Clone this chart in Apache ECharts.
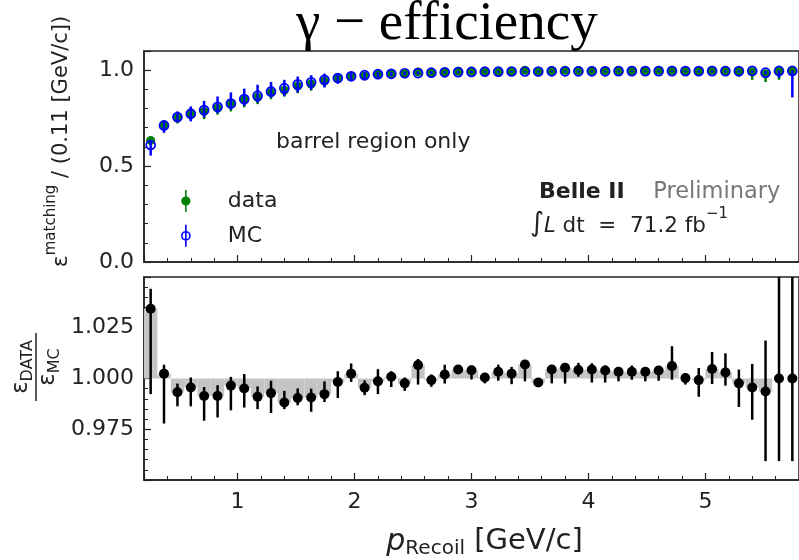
<!DOCTYPE html>
<html><head><meta charset="utf-8">
<script src="https://cdn.jsdelivr.net/npm/echarts@6/dist/echarts.min.js"></script>
<style>html,body{margin:0;padding:0;background:#fff}#c{width:799px;height:560px}</style>
</head><body><div id="c"></div>
<script>
// bin centres of p_Recoil [GeV/c]
var pRecoil = [0.257,0.371,0.486,0.600,0.714,0.829,0.943,1.057,1.171,1.286,1.400,1.514,1.629,1.743,1.857,1.971,2.086,2.200,2.314,2.429,2.543,2.657,2.771,2.886,3.000,3.114,3.229,3.343,3.457,3.571,3.686,3.800,3.914,4.029,4.143,4.257,4.371,4.486,4.600,4.714,4.829,4.943,5.057,5.171,5.286,5.400,5.514,5.629,5.743];
var binHalfWidth = 0.0571;
// efficiency: data
var dataEff = [0.634,0.714,0.751,0.770,0.785,0.802,0.823,0.845,0.859,0.883,0.895,0.917,0.928,0.943,0.957,0.970,0.970,0.978,0.982,0.982,0.991,0.986,0.991,0.994,0.995,0.993,0.995,0.995,0.999,0.991,0.998,0.999,0.998,0.998,0.998,0.998,0.998,0.998,0.999,0.999,0.995,0.994,0.999,0.998,0.993,0.992,0.981,0.996,0.996];
var dataLo  = [0.612,0.690,0.722,0.740,0.745,0.768,0.785,0.806,0.823,0.849,0.862,0.880,0.893,0.912,0.936,0.955,0.955,0.966,0.970,0.970,0.983,0.978,0.983,0.986,0.987,0.985,0.987,0.987,0.991,0.983,0.990,0.991,0.990,0.990,0.990,0.990,0.990,0.990,0.991,0.992,0.985,0.984,0.990,0.988,0.965,0.950,0.938,0.950,0.985];
var dataHi  = [0.655,0.735,0.775,0.793,0.808,0.826,0.845,0.866,0.880,0.902,0.913,0.934,0.943,0.956,0.968,0.979,0.979,0.986,0.989,0.989,0.996,0.992,0.996,0.998,0.998,0.997,0.998,0.998,1.000,0.996,1.000,1.000,1.000,1.000,1.000,1.000,1.000,1.000,1.000,1.000,0.999,0.998,1.000,1.000,0.998,0.998,0.992,1.000,1.000];
// efficiency: MC
var mcEff = [0.610,0.712,0.756,0.773,0.792,0.809,0.826,0.849,0.867,0.889,0.906,0.926,0.937,0.950,0.959,0.968,0.974,0.979,0.981,0.984,0.985,0.987,0.989,0.990,0.991,0.992,0.992,0.993,0.993,0.993,0.994,0.994,0.994,0.994,0.994,0.995,0.995,0.995,0.995,0.995,0.995,0.995,0.995,0.995,0.995,0.996,0.987,0.996,0.996];
var mcLo  = [0.555,0.673,0.728,0.733,0.754,0.776,0.794,0.814,0.832,0.858,0.866,0.884,0.898,0.910,0.930,0.944,0.948,0.962,0.968,0.974,0.977,0.980,0.983,0.984,0.986,0.987,0.987,0.988,0.988,0.988,0.989,0.989,0.989,0.989,0.989,0.990,0.990,0.990,0.990,0.990,0.989,0.988,0.988,0.988,0.987,0.986,0.978,0.960,0.858];
var mcHi  = [0.635,0.740,0.785,0.811,0.840,0.863,0.884,0.904,0.924,0.939,0.950,0.967,0.974,0.982,0.984,0.988,0.990,0.991,0.992,0.993,0.994,0.995,0.996,0.996,0.997,0.997,0.997,0.997,0.997,0.997,0.998,0.998,0.998,0.998,0.998,0.998,0.998,0.998,0.998,0.998,0.998,0.999,0.999,0.999,0.999,0.999,0.997,1.000,1.000];
// ratio data / MC
var ratio   = [1.0344,1.0024,0.9932,0.9956,0.9914,0.9914,0.9965,0.9951,0.9910,0.9928,0.9882,0.9904,0.9906,0.9923,0.9983,1.0024,0.9954,0.9986,1.0009,0.9976,1.0066,0.9992,1.0020,1.0044,1.0041,1.0005,1.0033,1.0024,1.0069,0.9980,1.0044,1.0053,1.0042,1.0044,1.0039,1.0033,1.0033,1.0033,1.0039,1.0061,1.0002,0.9992,1.0047,1.0030,0.9976,0.9956,0.9936,1.0000,1.0000];
var ratioLo = [0.9923,0.9778,0.9863,0.9863,0.9792,0.9808,0.9843,0.9857,0.9849,0.9830,0.9849,0.9868,0.9836,0.9884,0.9904,0.9983,0.9918,0.9923,0.9958,0.9939,0.9970,0.9959,0.9975,1.0030,0.9995,0.9976,0.9989,0.9972,0.9986,0.9958,0.9976,0.9975,1.0009,0.9980,0.9980,0.9986,0.9994,0.9986,0.9989,0.9994,0.9970,0.9910,0.9973,0.9965,0.9860,0.9797,0.9593,0.9593,0.9593];
var ratioHi = [1.0442,1.0068,0.9975,1.0005,0.9958,0.9967,1.0008,1.0022,0.9961,0.9989,0.9939,0.9951,0.9950,0.9986,1.0036,1.0074,0.9991,1.0046,1.0036,1.0005,1.0096,1.0020,1.0068,1.0057,1.0064,1.0020,1.0068,1.0057,1.0080,0.9994,1.0060,1.0072,1.0077,1.0075,1.0064,1.0049,1.0064,1.0053,1.0061,1.0159,1.0025,1.0052,1.0131,1.0124,1.0044,1.0072,1.0187,1.0500,1.0500];

var FONT = 'DejaVu Sans';
function pts(y){ return pRecoil.map(function(x,i){ return [x, y[i]]; }); }
function bars(lo,hi){ return pRecoil.map(function(x,i){ return [x, lo[i], hi[i]]; }); }
function errRender(color, w){
  return function(params, api){
    var a = api.coord([api.value(0), api.value(1)]);
    var b = api.coord([api.value(0), api.value(2)]);
    return {type:'line', shape:{x1:a[0],y1:a[1],x2:b[0],y2:b[1]}, style:{stroke:color, lineWidth:w}};
  };
}
function grayRender(params, api){
  var x = api.value(0), r = api.value(1);
  var a = api.coord([x - binHalfWidth, 1]);
  var b = api.coord([x + binHalfWidth, r]);
  return {type:'rect', shape:{x:a[0], y:Math.min(a[1],b[1]), width:b[0]-a[0], height:Math.abs(b[1]-a[1])}, style:{fill:'#c4c4c4'}};
}
var axisCommon = {
  axisLine:{show:true, lineStyle:{color:'#222', width:1.5}},
  axisTick:{show:true, inside:true, length:7, lineStyle:{color:'#222', width:1.2}},
  minorTick:{show:true, splitNumber:5, length:4, lineStyle:{color:'#222', width:1}},
  splitLine:{show:false}
};
var chart = echarts.init(document.getElementById('c'), null, {renderer:'canvas'});
chart.setOption({
  animation:false,
  backgroundColor:'#fff',
  title:{text:'γ − efficiency', left:291, top:-8, textStyle:{fontFamily:'Liberation Serif', fontSize:55, fontWeight:'normal', color:'#000'}},
  legend:{left:176, top:185, orient:'vertical', itemWidth:74, itemHeight:22, itemGap:12, selectedMode:false,
    textStyle:{fontFamily:FONT, fontSize:22, color:'#222'},
    data:[
      {name:'data', icon:'path://M4.3,0H5.7V20H4.3Z M9.2,10A4.2,4.2,0,1,1,0.8,10A4.2,4.2,0,1,1,9.2,10Z', itemStyle:{color:'green', borderWidth:0, opacity:1}},
      {name:'MC', icon:'path://M5,0L5,20M8.7,10A3.7,3.7,0,1,1,1.3,10A3.7,3.7,0,1,1,8.7,10Z', itemStyle:{color:'rgba(0,0,0,0)', borderColor:'blue', borderWidth:1.6, opacity:1}}
    ]},
  grid:[
    {left:144, top:51, width:655, height:211, show:true, borderColor:'#222', borderWidth:1.5, backgroundColor:'transparent'},
    {left:144, top:277, width:655, height:213, show:true, borderColor:'#222', borderWidth:1.5, backgroundColor:'transparent'}
  ],
  xAxis:[
    Object.assign({type:'value', gridIndex:0, min:0.2, max:5.8, splitNumber:5, axisLabel:{show:false}}, axisCommon),
    Object.assign({type:'value', gridIndex:1, min:0.2, max:5.8, splitNumber:5,
      axisLabel:{show:true, showMinLabel:false, showMaxLabel:false, fontFamily:FONT, fontSize:22, color:'#222', margin:11,
        formatter:function(v){ return Math.abs(v-Math.round(v))<1e-6 ? String(Math.round(v)) : ''; }},
      name:'{p|p}{s|Recoil}{n| [GeV/c]}', nameLocation:'middle', nameGap:47,
      nameTextStyle:{fontFamily:FONT, fontSize:29, color:'#222', padding:[0,0,0,26], rich:{
        p:{fontFamily:FONT, fontSize:30, fontStyle:'italic', color:'#222', lineHeight:32, verticalAlign:'top'},
        s:{fontFamily:FONT, fontSize:20, color:'#222', lineHeight:32, verticalAlign:'bottom'},
        n:{fontFamily:FONT, fontSize:29, color:'#222', lineHeight:32, verticalAlign:'top'}}}}, axisCommon)
  ],
  yAxis:[
    Object.assign({type:'value', gridIndex:0, min:0, max:1.1, interval:0.5,
      axisLabel:{showMaxLabel:false, fontFamily:FONT, fontSize:22, color:'#222', margin:10, formatter:function(v){return v.toFixed(1);}},
      name:'{e|ε}{sup|matching}{n| / (0.11 [GeV/c])}', nameLocation:'middle', nameRotate:90, nameGap:72,
      nameTextStyle:{fontFamily:FONT, fontSize:20, color:'#222', padding:[0,0,0,30], rich:{
        e:{fontFamily:FONT, fontSize:22, color:'#222', lineHeight:28, verticalAlign:'bottom'},
        sup:{fontFamily:FONT, fontSize:15, color:'#222', lineHeight:28, verticalAlign:'top'},
        n:{fontFamily:FONT, fontSize:21, color:'#222', lineHeight:28, verticalAlign:'bottom'}}}}, axisCommon),
    Object.assign({type:'value', gridIndex:1, min:0.95, max:1.05, interval:0.025,
      axisLabel:{showMinLabel:false, showMaxLabel:false, fontFamily:FONT, fontSize:22, color:'#222', margin:10, formatter:function(v){return v.toFixed(3);}}}, axisCommon)
  ],
  graphic:[
    {type:'text', left:276, top:131, style:{text:'barrel region only', font:'22px "DejaVu Sans"', fill:'#222'}},
    {type:'text', left:539, top:181, style:{text:'{b|Belle II}{g|    Preliminary}', font:'22px "DejaVu Sans"',
      rich:{b:{fontFamily:FONT, fontSize:22, fontWeight:'bold', fill:'#222'}, g:{fontFamily:FONT, fontSize:22.5, fill:'#777'}}}},
    {type:'text', left:530, top:207, style:{text:'{i|∫}{l|L}{n| dt  =  71.2 fb}{s|−1}', font:'21px "DejaVu Sans"',
      rich:{i:{fontFamily:FONT, fontSize:27, fill:'#222', lineHeight:30, verticalAlign:'bottom'},
            l:{fontFamily:FONT, fontSize:21, fontStyle:'italic', fill:'#222', lineHeight:30, verticalAlign:'bottom'},
            n:{fontFamily:FONT, fontSize:21.5, fill:'#222', lineHeight:30, verticalAlign:'bottom'},
            s:{fontFamily:FONT, fontSize:15, fill:'#222', lineHeight:30, verticalAlign:'top'}}}},
    {type:'group', x:36, y:367, rotation:Math.PI/2, children:[
      {type:'text', x:0, y:-13, style:{text:'{e|ε}{s|DATA}', align:'center', verticalAlign:'middle', font:'23px "DejaVu Sans"',
        rich:{e:{fontFamily:FONT, fontSize:23, fill:'#222', lineHeight:26, verticalAlign:'top'}, s:{fontFamily:FONT, fontSize:16, fill:'#222', lineHeight:26, verticalAlign:'bottom'}}}},
      {type:'line', shape:{x1:-34, y1:0, x2:34, y2:0}, style:{stroke:'#222', lineWidth:1.5}},
      {type:'text', x:0, y:14, style:{text:'{e|ε}{s|MC}', align:'center', verticalAlign:'middle', font:'23px "DejaVu Sans"',
        rich:{e:{fontFamily:FONT, fontSize:23, fill:'#222', lineHeight:26, verticalAlign:'top'}, s:{fontFamily:FONT, fontSize:16, fill:'#222', lineHeight:26, verticalAlign:'bottom'}}}}
    ]}
  ],
  series:[
    {type:'custom', name:'data err', xAxisIndex:0, yAxisIndex:0, renderItem:errRender('green',2.5), data:bars(dataLo,dataHi), encode:{x:0,y:[1,2]}, silent:true, z:2},
    {type:'scatter', name:'data', xAxisIndex:0, yAxisIndex:0, data:pts(dataEff), symbol:'circle', symbolSize:9, itemStyle:{color:'green', opacity:1}, z:3},
    {type:'custom', name:'MC err', xAxisIndex:0, yAxisIndex:0, renderItem:errRender('blue',2.5), data:bars(mcLo,mcHi), encode:{x:0,y:[1,2]}, silent:true, z:4},
    {type:'scatter', name:'MC', xAxisIndex:0, yAxisIndex:0, data:pts(mcEff), symbol:'circle', symbolSize:9, itemStyle:{color:'rgba(0,0,0,0)', borderColor:'blue', borderWidth:1.7, opacity:1}, z:5},
    {type:'custom', name:'ratio fill', xAxisIndex:1, yAxisIndex:1, renderItem:grayRender, data:pts(ratio), encode:{x:0,y:1}, silent:true, z:1},
    {type:'custom', name:'ratio err', xAxisIndex:1, yAxisIndex:1, renderItem:errRender('#000',2.5), data:bars(ratioLo,ratioHi), encode:{x:0,y:[1,2]}, silent:true, z:2},
    {type:'scatter', name:'ratio', xAxisIndex:1, yAxisIndex:1, data:pts(ratio), symbol:'circle', symbolSize:10, itemStyle:{color:'#000', opacity:1}, z:3}
  ]
});
</script></body></html>
